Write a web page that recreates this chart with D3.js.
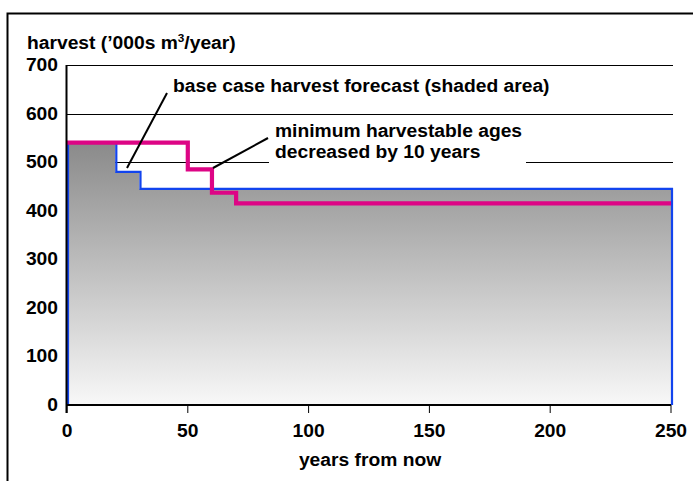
<!DOCTYPE html>
<html><head><meta charset="utf-8">
<script src="https://cdn.jsdelivr.net/npm/d3@7"></script>
<style>
html,body{margin:0;padding:0;background:#fff;}
svg text{font-family:"Liberation Sans",Arial,sans-serif;font-weight:bold;fill:#000;}
</style></head>
<body>
<svg id="chart" width="693" height="481"></svg>
<script>
// Data
const baseYears   = [0, 20, 30, 250];
const baseHarvest = [540, 480, 445, 445];
const minAgeYears   = [0, 50, 60, 70, 250];
const minAgeHarvest = [540, 485, 437, 415, 415];
const xTicks = [0, 50, 100, 150, 200, 250];
const yTicks = [0, 100, 200, 300, 400, 500, 600, 700];
const yTitle = "harvest (\u2019000s m";
const xTitle = "years from now";
const note1 = "base case harvest forecast (shaded area)";
const note2a = "minimum harvestable ages";
const note2b = "decreased by 10 years";

const FS = 18;       // font size
const SX = 1.07;     // horizontal stretch of glyphs

const svg = d3.select("#chart");
const x = d3.scaleLinear().domain([0, 250]).range([67, 671]);
const y = d3.scaleLinear().domain([0, 700]).range([405, 65]);

function label(parent, px, py, txt, anchor) {
  return parent.append("text")
    .attr("transform", `translate(${px},${py}) scale(${SX},1)`)
    .attr("text-anchor", anchor || "start")
    .attr("font-size", FS).text(txt);
}

// outer frame
svg.append("rect").attr("x", 7.5).attr("y", 13.5).attr("width", 720).attr("height", 520)
  .attr("fill", "none").attr("stroke", "#000").attr("stroke-width", 2);

// gradient
const defs = svg.append("defs");
const g = defs.append("linearGradient").attr("id", "grad")
  .attr("gradientUnits", "userSpaceOnUse")
  .attr("x1", 0).attr("x2", 0).attr("y1", y(540)).attr("y2", y(0));
g.append("stop").attr("offset", 0).attr("stop-color", "#8a8a8a");
g.append("stop").attr("offset", 1).attr("stop-color", "#f8f8f8");

// gridlines
svg.append("g").selectAll("line").data(yTicks.filter(d => d > 0)).join("line")
  .attr("x1", x(0)).attr("x2", 673)
  .attr("y1", d => Math.round(y(d)) + 0.5).attr("y2", d => Math.round(y(d)) + 0.5)
  .attr("stroke", "#000").attr("stroke-width", 1);

// base case area
const basePts = baseYears.map((d, i) => [d, baseHarvest[i]]);
const area = d3.area().curve(d3.curveStepAfter)
  .x(d => x(d[0])).y0(y(0)).y1(d => y(d[1]));
svg.append("path").datum(basePts).attr("d", area).attr("fill", "url(#grad)");

// base case outline (closed at both ends down to zero)
const outlinePts = [[0, 0]];
basePts.forEach((p, i) => {
  outlinePts.push([p[0], p[1]]);
  if (i < basePts.length - 1) outlinePts.push([basePts[i + 1][0], p[1]]);
});
outlinePts.push([250, 0]);
svg.append("path")
  .attr("d", d3.line().x(d => x(d[0])).y(d => y(d[1]))(outlinePts))
  .attr("fill", "none").attr("stroke", "#1244ee").attr("stroke-width", 2.2)
  .attr("transform", "translate(1,0)");

// min age line
const minPts = minAgeYears.map((d, i) => [d, minAgeHarvest[i]]);
const line = d3.line().curve(d3.curveStepAfter).x(d => x(d[0])).y(d => y(d[1]));
svg.append("path").datum(minPts).attr("d", line)
  .attr("fill", "none").attr("stroke", "#dd0585").attr("stroke-width", 4.2);

// label box for note 2
svg.append("rect").attr("x", 269).attr("y", 117).attr("width", 257).attr("height", 47).attr("fill", "#fff");

// axes
svg.append("line").attr("x1", x(0)).attr("x2", x(250)).attr("y1", y(0)).attr("y2", y(0))
  .attr("stroke", "#000").attr("stroke-width", 2);
svg.append("line").attr("x1", x(0) - 0.5).attr("x2", x(0) - 0.5).attr("y1", y(700)).attr("y2", y(0) + 8)
  .attr("stroke", "#000").attr("stroke-width", 2);

const xt = svg.append("g");
xTicks.forEach(d => {
  xt.append("line").attr("x1", x(d)).attr("x2", x(d)).attr("y1", y(0)).attr("y2", y(0) + 8)
    .attr("stroke", "#000").attr("stroke-width", 1);
  label(xt, x(d), 437, d, "middle");
});

const ytg = svg.append("g");
yTicks.forEach(d => label(ytg, 58, y(d) + 6, d, "end"));

// titles
const yt = label(svg, 27, 49, yTitle);
yt.append("tspan").attr("font-size", 11).attr("dy", -7).text("3");
yt.append("tspan").attr("dy", 7).text("/year)");

label(svg, 370, 466, xTitle, "middle");

// annotations
label(svg, 173, 92, note1);
label(svg, 275, 137, note2a);
label(svg, 275, 158, note2b);
svg.append("line").attr("x1", 167).attr("y1", 93).attr("x2", 127).attr("y2", 168)
  .attr("stroke", "#000").attr("stroke-width", 2);
svg.append("line").attr("x1", 268).attr("y1", 138).attr("x2", 213).attr("y2", 168)
  .attr("stroke", "#000").attr("stroke-width", 2);
</script>
</body></html>
